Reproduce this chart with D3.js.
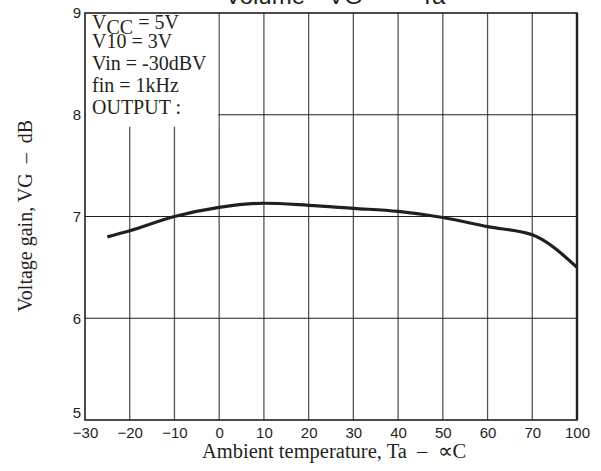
<html>
<head>
  <meta charset="utf-8">
  <script src="https://d3js.org/d3.v7.min.js"></script>
  <style>
    body { margin: 0; background: #fff; }
    svg text { white-space: pre; }
    .tick text { font-family: "Liberation Sans", Arial, sans-serif; font-size: 15px; fill: #231f20; }
    .serif { font-family: "Liberation Serif", "Times New Roman", serif; fill: #231f20; }
  </style>
</head>
<body>
  <div id="chart"></div>
  <script>
    // data
    var temps = [-25, -20, -10, 0, 10, 20, 30, 40, 50, 60, 70, 100];
    var gains = [6.80, 6.86, 7.00, 7.09, 7.13, 7.11, 7.08, 7.05, 6.99, 6.90, 6.82, 6.50];

    var xTicks = [-30, -20, -10, 0, 10, 20, 30, 40, 50, 60, 70, 100];
    var yTicks = [5, 6, 7, 8, 9];
    var conditions = ["V10 = 3V", "Vin = -30dBV", "fin = 1kHz", "OUTPUT :"];

    var W = 601, H = 471;
    var plot = {left: 85, right: 577, top: 13, bottom: 420};

    // last division is 70 -> 100 squeezed into one grid step, like the datasheet
    var x = d3.scaleLinear()
        .domain([-30, 70, 100])
        .range([plot.left, plot.left + (plot.right - plot.left) * 10 / 11, plot.right]);
    var y = d3.scaleLinear().domain([5, 9]).range([plot.bottom, plot.top]);

    var svg = d3.select("#chart").append("svg")
        .attr("width", W)
        .attr("height", H);

    // vertical grid (the -20 / -10 lines start under the conditions box)
    svg.append("g").selectAll("line")
        .data(xTicks.slice(1, -1))
        .enter().append("line")
          .attr("x1", function(d) { return x(d); })
          .attr("x2", function(d) { return x(d); })
          .attr("y1", plot.top)
          .attr("y2", plot.bottom)
          .attr("stroke", "#555")
          .attr("stroke-width", 1.3);

    // horizontal grid
    svg.append("g").selectAll("line")
        .data(yTicks.slice(1, -1))
        .enter().append("line")
          .attr("x1", plot.left)
          .attr("x2", plot.right)
          .attr("y1", function(d) { return y(d); })
          .attr("y2", function(d) { return y(d); })
          .attr("stroke", "#231f20")
          .attr("stroke-width", 1.2);

    // white patch behind the conditions text
    svg.append("rect")
        .attr("x", plot.left + 1)
        .attr("y", plot.top + 1)
        .attr("width", x(0) - plot.left - 2)
        .attr("height", y(8) + 11 - plot.top)
        .attr("fill", "#fff");

    // frame
    svg.append("rect")
        .attr("x", plot.left)
        .attr("y", plot.top)
        .attr("width", plot.right - plot.left)
        .attr("height", plot.bottom - plot.top)
        .attr("fill", "none")
        .attr("stroke", "#231f20")
        .attr("stroke-width", 1.6);
    svg.append("line")
        .attr("x1", plot.right).attr("x2", plot.right)
        .attr("y1", plot.top).attr("y2", plot.bottom)
        .attr("stroke", "#231f20")
        .attr("stroke-width", 2.4);

    // curve
    var line = d3.line()
        .x(function(d, i) { return x(temps[i]); })
        .y(function(d) { return y(d); })
        .curve(d3.curveMonotoneX);

    svg.append("path")
        .datum(gains)
        .attr("d", line)
        .attr("fill", "none")
        .attr("stroke", "#231f20")
        .attr("stroke-width", 3.2);

    // axes
    var xAxis = svg.append("g")
        .attr("transform", "translate(0," + plot.bottom + ")")
        .call(d3.axisBottom(x).tickValues(xTicks).tickSize(0).tickPadding(7)
              .tickFormat(function(d) { return d < 0 ? "\u2212" + Math.abs(d) : d; }));
    xAxis.select(".domain").remove();

    var yAxis = svg.append("g")
        .attr("transform", "translate(" + plot.left + ",0)")
        .call(d3.axisLeft(y).tickValues(yTicks).tickSize(0).tickPadding(4)
              .tickFormat(d3.format("d")));
    yAxis.select(".domain").remove();
    yAxis.selectAll(".tick text")
        .filter(function(d) { return d === 5; })
        .attr("dy", "-0.2em");

    // conditions block
    var cond = svg.append("g").attr("class", "serif").style("font-size", "20px");
    var vcc = cond.append("text").attr("x", 92).attr("y", 29);
    vcc.append("tspan").text("V");
    vcc.append("tspan").attr("dy", 5).text("CC");
    vcc.append("tspan").attr("dy", -5).text(" = 5V");
    cond.selectAll(".c")
        .data(conditions)
        .enter().append("text")
          .attr("x", 92)
          .attr("y", function(d, i) { return 48 + i * 22; })
          .text(function(d) { return d; });

    // axis titles
    svg.append("text")
        .attr("class", "serif")
        .attr("x", 202)
        .attr("y", 458)
        .style("font-size", "20.5px")
        .text("Ambient temperature, Ta  \u2013  \u221dC");

    svg.append("text")
        .attr("class", "serif")
        .attr("transform", "translate(32,216) rotate(-90)")
        .attr("text-anchor", "middle")
        .style("font-size", "20px")
        .text("Voltage gain, VG  \u2013  dB");

    // title, mostly cut off at the top edge
    var title = svg.append("g")
        .style("font-family", "'Liberation Sans', Arial, sans-serif")
        .style("font-size", "24px")
        .style("fill", "#231f20");
    title.append("text").attr("x", 225).attr("y", 4).text("Volume");
    title.append("text").attr("x", 312).attr("y", 4).text("\u2013");
    title.append("text").attr("x", 328).attr("y", 4).text("VG");
    title.append("text").attr("x", 385).attr("y", 4).text("\u2013");
    title.append("text").attr("x", 420).attr("y", 4).text("Ta");
  </script>
</body>
</html>
